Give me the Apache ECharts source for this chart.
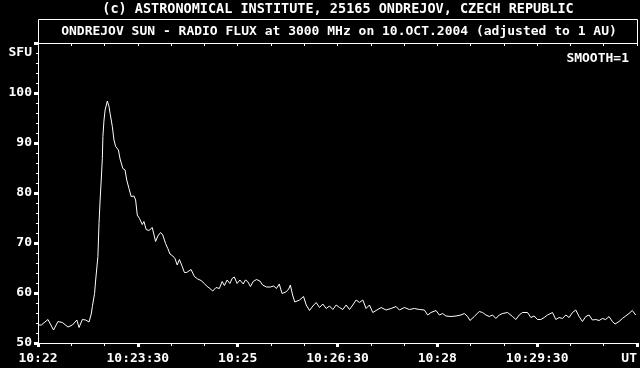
<!DOCTYPE html>
<html>
<head>
<meta charset="utf-8">
<script src="https://cdn.jsdelivr.net/npm/echarts@6/dist/echarts.min.js"></script>
<style>
html,body{margin:0;padding:0;background:#000;}
#c{width:640px;height:368px;}
</style>
</head>
<body>
<div id="c"></div>
<script>
// seconds after 10:22:00 UT
const times = [0,3,9,14,18,22,27,31,35,37,40,43,46,48,49,51,52,54,55,56,57,58,58.5,59.5,60.5,62.5,64,65,67,68.5,70,71,72.5,74,76.5,78.5,80,82,84,86.5,88,89.5,91.5,94,95.5,97.5,100,103,106,108,110.5,112.5,115,117,119,121.5,123.5,125.5,127.5,130,132,134,138,141,144,147,150,152,153,155,157.5,160.5,163.5,166,168,170.5,173,175,177,179.5,182,185,187,189,191.5,194,197,200,202.5,206,209.5,212.5,215,217.5,220,223.5,226,227.5,229.5,231.5,235.8,239.4,241.8,244.8,247.8,250.8,253.8,256.8,259.8,262.8,265.8,268.8,271.8,274.8,277.8,280.8,283.8,286.8,289.8,292.8,295.8,298.8,301.8,304.8,309.3,310.8,313.8,318.3,322.8,325.8,330.3,334.8,339.3,343.8,348.3,351.3,354.3,358.8,361.8,364.8,367.8,372.3,376.8,381.3,384.3,387.3,389.4,393.3,397.8,400.8,403.8,406.8,409.8,412.8,415.8,418.8,423.3,427.8,430.8,433.8,436.8,441.3,444.3,447.3,450.3,453.3,456.3,459.3,463.8,466.8,469.8,472.8,475.8,478.8,481.8,484.8,487.8,490.8,493.8,496.8,499.8,502.8,505.8,508.8,511.8,514.8,517.8,520.2,523.8,526.8,529.8,532.8,535.8,538.8];
// radio flux, SFU
const flux = [53.6,53.6,54.7,52.6,54.3,54.1,53.2,53.6,54.6,53.1,54.7,54.6,54.2,55.8,57.3,59.9,62.6,67.3,73.9,78.6,82.6,86.9,91.3,94.6,96.6,98.4,97.3,95.9,93.3,90.6,89.3,88.9,88.6,86.8,84.9,84.6,82.6,80.9,79.3,79.4,78.6,75.6,74.9,73.7,74.3,72.7,72.5,73.1,70.3,71.4,72.1,71.6,69.9,68.9,67.8,67.4,66.9,65.6,66.7,65.3,64.1,64.1,64.7,63.3,62.8,62.5,61.9,61.4,61.8,60.9,60.4,61.1,60.9,62.3,61.5,62.6,61.9,62.9,63.2,61.9,62.6,61.8,62.6,62.3,61.3,62.3,62.7,62.4,61.6,61.2,61.2,61.4,60.9,61.8,59.9,60.2,60.8,61.6,59.6,58.2,58.6,59.3,57.6,56.5,57.4,58.1,57.1,57.8,56.9,57.4,56.7,57.6,57.1,56.7,57.6,56.7,57.6,58.6,58.1,58.6,56.9,57.6,56.1,56.5,57.1,57.4,56.6,56.9,57.3,56.6,57.1,56.7,56.9,56.7,56.6,55.6,56.1,56.5,55.6,55.9,55.4,55.3,55.4,55.6,55.9,55.3,54.5,55.3,56.3,56.1,55.6,55.3,55.6,54.9,55.6,55.9,56.1,55.3,54.7,55.6,56.1,56.1,55.1,55.4,54.7,54.7,55.1,55.6,56.1,54.7,55.1,54.9,55.6,55.1,56.1,56.6,55.3,54.3,55.3,55.6,54.6,54.7,54.5,54.9,54.7,55.3,54.3,53.8,54.3,54.9,55.4,55.9,56.5,55.6];
const xTickLabels = ['10:22','10:23:30','10:25','10:26:30','10:28','10:29:30','UT'];
const yTicks = [50,60,70,80,90,100];
const titleTop = '(c) ASTRONOMICAL INSTITUTE, 25165 ONDREJOV, CZECH REPUBLIC';
const titleBox = 'ONDREJOV SUN - RADIO FLUX at 3000 MHz on 10.OCT.2004 (adjusted to 1 AU)';
const yUnit = 'SFU';
const smoothNote = 'SMOOTH=1';

const FONT = '"DejaVu Sans Mono", monospace';
const chart = echarts.init(document.getElementById('c'), null, {renderer: 'canvas'});
const data = times.map((t, i) => [t, flux[i]]);
chart.setOption({
  backgroundColor: '#000',
  animation: false,
  grid: {left: 38, right: 3, top: 43, bottom: 25},
  xAxis: [{
    type: 'value', min: 0, max: 540, interval: 90, position: 'bottom',
    axisLine: {show: true, lineStyle: {color: '#fff', width: 1}},
    axisTick: {show: true, length: 4, lineStyle: {color: '#fff', width: 3}},
    minorTick: {show: true, splitNumber: 3, length: 3, lineStyle: {color: '#fff', width: 1}},
    splitLine: {show: false},
    axisLabel: {color: '#fff', fontFamily: FONT, fontWeight: 'bold', fontSize: 13, margin: 9,
      alignMaxLabel: 'right',
      formatter: v => xTickLabels[Math.round(v / 90)] || ''}
  }, {
    type: 'value', min: 0, max: 540, interval: 30, position: 'top',
    axisLine: {show: true, lineStyle: {color: '#fff', width: 1}},
    axisTick: {show: true, inside: true, length: 3, lineStyle: {color: '#fff', width: 1}},
    axisLabel: {show: false}, splitLine: {show: false}
  }],
  yAxis: [{
    type: 'value', min: 50, max: 110, interval: 10,
    axisLine: {show: true, lineStyle: {color: '#fff', width: 1}},
    axisTick: {show: true, length: 4, lineStyle: {color: '#fff', width: 3}},
    minorTick: {show: true, splitNumber: 5, length: 2, lineStyle: {color: '#fff', width: 1}},
    splitLine: {show: false},
    axisLabel: {color: '#fff', fontFamily: FONT, fontWeight: 'bold', fontSize: 13, margin: 6,
      formatter: v => (yTicks.indexOf(v) >= 0 ? String(v) : '')}
  }, {
    type: 'value', min: 50, max: 110, position: 'right',
    axisLine: {show: true, lineStyle: {color: '#fff', width: 1}},
    axisTick: {show: false}, axisLabel: {show: false}, splitLine: {show: false}
  }],
  graphic: [
    {type: 'rect', shape: {x: 38.5, y: 19.5, width: 599, height: 24}, style: {fill: null, stroke: '#fff', lineWidth: 1}, silent: true},
    {type: 'text', x: 338, y: 9, style: {text: titleTop, fill: '#fff', font: 'bold 13.5px ' + FONT, align: 'center', verticalAlign: 'middle'}},
    {type: 'text', x: 339, y: 31.5, style: {text: titleBox, fill: '#fff', font: 'bold 13px ' + FONT, align: 'center', verticalAlign: 'middle'}},
    {type: 'text', x: 32, y: 52.5, style: {text: yUnit, fill: '#fff', font: 'bold 13px ' + FONT, align: 'right', verticalAlign: 'middle'}},
    {type: 'text', x: 629, y: 59, style: {text: smoothNote, fill: '#fff', font: 'bold 13px ' + FONT, align: 'right', verticalAlign: 'middle'}}
  ],
  series: [{
    type: 'line', data: data, showSymbol: false, symbol: 'none',
    lineStyle: {color: '#fff', width: 1}, xAxisIndex: 0, yAxisIndex: 0
  }]
});
</script>
</body>
</html>
